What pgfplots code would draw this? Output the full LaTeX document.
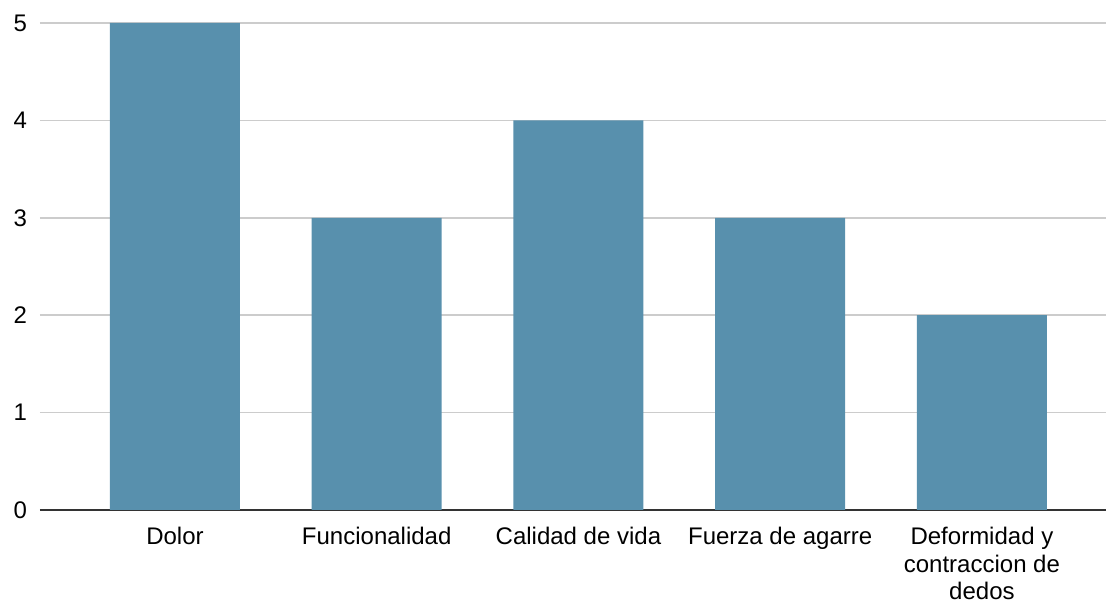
\documentclass[border=0pt]{standalone}
\usepackage{pgfplots}
\pgfplotsset{compat=1.18}
\usepackage{fontspec}
\setmainfont{Liberation Sans}
\definecolor{barblue}{HTML}{5890AD}
\definecolor{gridgray}{HTML}{CCCCCC}
\definecolor{axisdark}{HTML}{333333}
\begin{document}
\begin{tikzpicture}
\begin{axis}[
    name=ax,
    scale only axis,
    width=533pt, height=243.5pt,
    ymin=0, ymax=5,
    xmin=-0.669, xmax=4.615,
    ytick={0,1,2,3,4,5},
    xtick=data,
    xticklabels={Dolor, Funcionalidad, Calidad de vida, Fuerza de agarre, {Deformidad y\\contraccion de\\dedos}},
    x tick label style={align=center, font=\fontsize{12}{13.8}\selectfont, yshift=-5pt},
    y tick label style={font=\fontsize{12}{13.8}\selectfont, xshift=-3pt},
    /pgf/number format/assume math mode=true,
    major tick length=0pt,
    ymajorgrids,
    grid style={gridgray, line width=0.75pt},
    axis x line*=bottom,
    axis y line*=left,
    y axis line style={draw=none},
    x axis line style={axisdark, line width=0.8pt, -},
    ybar,
    bar width=65pt,
]
\addplot[fill=barblue, draw=none] coordinates {
    (0,5) (1,3) (2,4) (3,3) (4,2)
};
\end{axis}
\pgfresetboundingbox
\path ([xshift=-20pt,yshift=-45pt]ax.south west) rectangle ([yshift=11.5pt]ax.north east);
\end{tikzpicture}
\end{document}
